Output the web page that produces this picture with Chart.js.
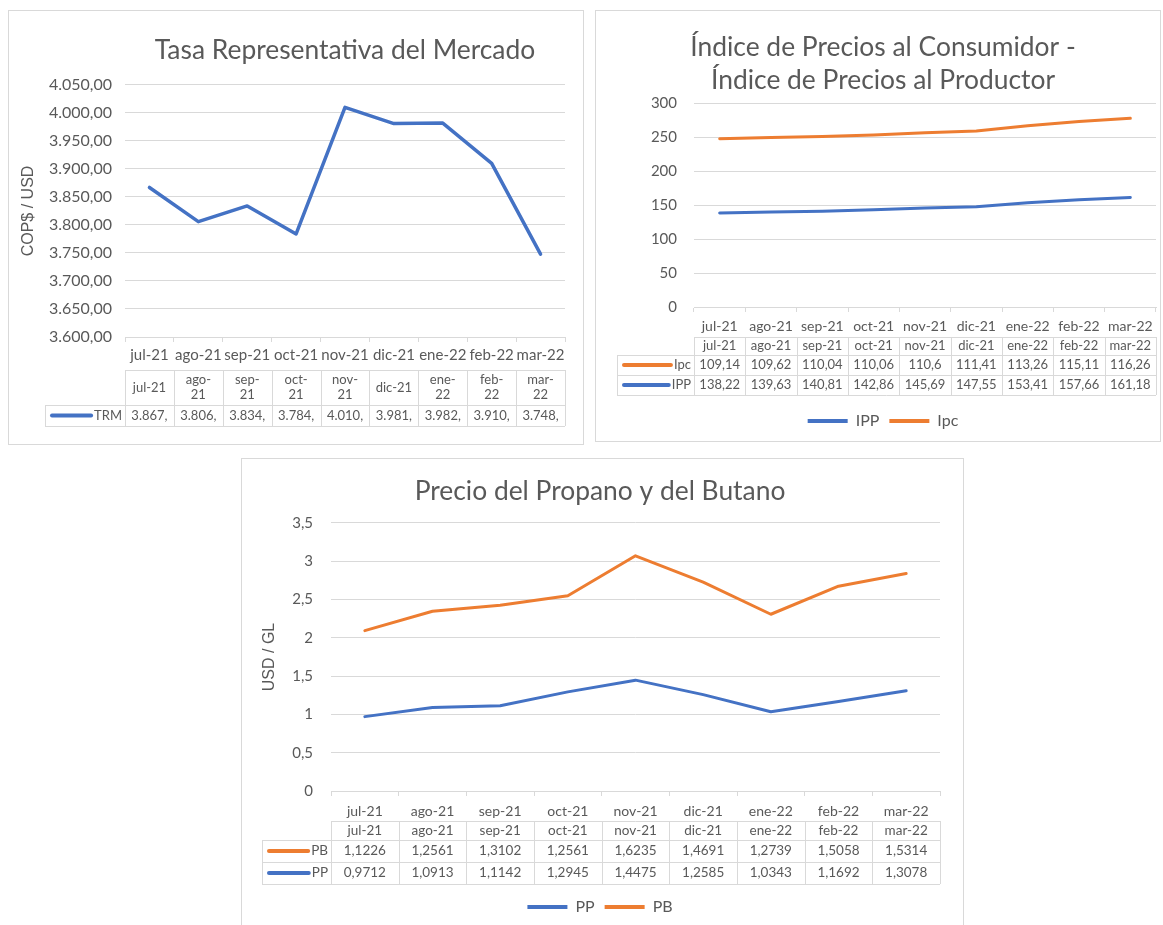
<!DOCTYPE html>
<html>
<head>
<meta charset="utf-8">
<script src="https://cdn.jsdelivr.net/npm/chart.js@4.4.0/dist/chart.umd.min.js"></script>
<style>
body { margin: 0; background: #fff; overflow: hidden; }
.panel { position: absolute; border: 1px solid #d9d9d9; background: #fff; }
canvas { display: block; }
</style>
</head>
<body>
<div class="panel" style="left:8px;top:10px;width:574px;height:433px"><canvas id="trm-chart" width="574" height="433"></canvas></div>
<div class="panel" style="left:595px;top:10px;width:564px;height:430px"><canvas id="ipc-chart" width="564" height="430"></canvas></div>
<div class="panel" style="left:241px;top:458px;width:721px;height:468px"><canvas id="gas-chart" width="721" height="468"></canvas></div>
<script>
// data
const months = ['jul-21', 'ago-21', 'sep-21', 'oct-21', 'nov-21', 'dic-21', 'ene-22', 'feb-22', 'mar-22'];
const trmHeader = ['jul-21', 'ago-\n21', 'sep-\n21', 'oct-\n21', 'nov-\n21', 'dic-21', 'ene-\n22', 'feb-\n22', 'mar-\n22'];
const trm = [3867, 3806, 3834, 3784, 4010, 3981, 3982, 3910, 3748];
const trmCells = ['3.867,', '3.806,', '3.834,', '3.784,', '4.010,', '3.981,', '3.982,', '3.910,', '3.748,'];
const ipc = [109.14, 109.62, 110.04, 110.06, 110.6, 111.41, 113.26, 115.11, 116.26];
const ipp = [138.22, 139.63, 140.81, 142.86, 145.69, 147.55, 153.41, 157.66, 161.18];
const pb = [1.1226, 1.2561, 1.3102, 1.2561, 1.6235, 1.4691, 1.2739, 1.5058, 1.5314];
const pp = [0.9712, 1.0913, 1.1142, 1.2945, 1.4475, 1.2585, 1.0343, 1.1692, 1.3078];

const BLUE = '#4472C4';
const ORANGE = '#ED7D31';
const GREY = '#595959';
const LINE = '#d9d9d9';
const FONT = 'Lato';

// "4050" -> "4.050,00", 1.5 -> "1,5"
function esNum(v, dec) {
    const s = (dec === undefined ? String(v) : v.toFixed(dec)).split('.');
    s[0] = s[0].replace(/\B(?=(\d{3})+(?!\d))/g, '.');
    return s.join(',');
}

// draws the excel-style data table under the x axis
const dataTablePlugin = {
    id: 'dataTable',
    afterDraw(chart, args, o) {
        if (!o || !o.rows) return;
        const ctx = chart.ctx;
        const area = chart.chartArea;
        const n = o.header.length;
        const colW = (area.right - area.left) / n;
        const top = o.top, hh = o.headerHeight, rh = o.rowHeight;
        const bottom = top + hh + rh * o.rows.length;
        const px = v => Math.round(v) + 0.5;

        ctx.save();
        ctx.strokeStyle = LINE;
        ctx.lineWidth = 1;
        ctx.beginPath();
        ctx.moveTo(area.left, px(top)); ctx.lineTo(area.right, px(top));
        for (let i = 0; i <= o.rows.length; i++) {
            const y = px(top + hh + rh * i);
            ctx.moveTo(o.left, y); ctx.lineTo(area.right, y);
        }
        for (let i = 0; i <= n; i++) {
            const x = px(area.left + colW * i);
            ctx.moveTo(x, top); ctx.lineTo(x, bottom);
        }
        ctx.moveTo(px(o.left), top + hh); ctx.lineTo(px(o.left), bottom);
        ctx.stroke();

        ctx.fillStyle = GREY;
        ctx.font = o.fontSize + 'px ' + FONT;
        ctx.textAlign = 'center';
        ctx.textBaseline = 'middle';
        o.header.forEach((h, i) => {
            const lines = h.split('\n');
            const lh = o.fontSize * 1.15;
            lines.forEach((t, j) => {
                ctx.fillText(t, area.left + colW * (i + 0.5), top + hh / 2 + (j - (lines.length - 1) / 2) * lh);
            });
        });
        o.rows.forEach((r, k) => {
            const y = top + hh + rh * k + rh / 2;
            ctx.textAlign = 'center';
            ctx.fillStyle = GREY;
            r.values.forEach((v, i) => ctx.fillText(v, area.left + colW * (i + 0.5), y));
            ctx.textAlign = 'right';
            ctx.fillText(r.label, area.left - 3, y);
            const w = ctx.measureText(r.label).width;
            ctx.strokeStyle = r.color;
            ctx.lineWidth = 4;
            ctx.lineCap = 'round';
            ctx.beginPath();
            ctx.moveTo(o.left + 7, y);
            ctx.lineTo(area.left - 6 - w, y);
            ctx.stroke();
        });
        ctx.restore();
    }
};
Chart.register(dataTablePlugin);

function lineSet(label, data, color) {
    return {
        label: label, data: data,
        borderColor: color, backgroundColor: color,
        borderWidth: 3, pointRadius: 0, tension: 0,
        borderCapStyle: 'round', borderJoinStyle: 'round', fill: false
    };
}

function xAxis(height, size, pad) {
    return {
        offset: true,
        afterFit: s => { s.height = height; },
        grid: { offset: true, drawOnChartArea: false, tickLength: 5, color: LINE },
        border: { color: LINE },
        ticks: { color: GREY, font: { family: FONT, size: size }, padding: pad, maxRotation: 0, autoSkip: false }
    };
}

const legendLabels = {
    boxWidth: 40, boxHeight: 4, color: GREY, padding: 10,
    font: { family: FONT, size: 16 },
    generateLabels: chart => Chart.defaults.plugins.legend.labels.generateLabels(chart)
        .map(l => Object.assign(l, { lineWidth: 0, fillStyle: l.strokeStyle }))
};

// Tasa Representativa del Mercado
new Chart(document.getElementById('trm-chart'), {
    type: 'line',
    data: { labels: months, datasets: [Object.assign(lineSet('TRM', trm, BLUE), { borderWidth: 3.5 })] },
    options: {
        responsive: false, animation: false,
        layout: { padding: { left: 0, right: 18, top: 0, bottom: 0 } },
        plugins: {
            legend: { display: false },
            tooltip: { enabled: false },
            title: {
                display: true, text: 'Tasa Representativa del Mercado', fullSize: false,
                color: GREY, font: { family: FONT, size: 26.4, weight: 'normal', lineHeight: 1.2 },
                padding: { top: 23.2, bottom: 19.1 }
            },
            dataTable: {
                header: trmHeader, top: 359, headerHeight: 35, rowHeight: 21, left: 36, fontSize: 13,
                rows: [{ label: 'TRM', color: BLUE, values: trmCells }]
            }
        },
        scales: {
            x: xAxis(107, 15, 4),
            y: {
                min: 3600, max: 4050,
                afterFit: s => { s.width = 116; },
                grid: { color: LINE, drawTicks: false },
                border: { display: false },
                ticks: { stepSize: 50, padding: 13, color: GREY, font: { family: FONT, size: 16 }, callback: v => esNum(v, 2) },
                title: { display: true, text: 'COP$ / USD', color: GREY, font: { family: 'Liberation Sans', size: 16 }, padding: { top: 10, bottom: 0 } }
            }
        }
    }
});

// Indice de precios (stacked lines)
new Chart(document.getElementById('ipc-chart'), {
    type: 'line',
    data: { labels: months, datasets: [lineSet('IPP', ipp, BLUE), lineSet('Ipc', ipc, ORANGE)] },
    options: {
        responsive: false, animation: false,
        layout: { padding: { left: 14, right: 4, top: 0, bottom: 2 } },
        plugins: {
            legend: { position: 'bottom', labels: legendLabels },
            tooltip: { enabled: false },
            title: {
                display: true, text: ['Índice de Precios al Consumidor -', 'Índice de Precios al Productor'],
                color: GREY, font: { family: FONT, size: 26.4, weight: 'normal', lineHeight: 1.25 },
                padding: { top: 19.5, bottom: 6.5 }
            },
            dataTable: {
                header: months, top: 326, headerHeight: 18, rowHeight: 20, left: 21, fontSize: 13,
                rows: [
                    { label: 'Ipc', color: ORANGE, values: ipc.map(v => esNum(v)) },
                    { label: 'IPP', color: BLUE, values: ipp.map(v => esNum(v)) }
                ]
            }
        },
        scales: {
            x: xAxis(96, 14, 6),
            y: {
                stacked: true, min: 0, max: 300,
                afterFit: s => { s.width = 84; },
                grid: { color: LINE, drawTicks: false },
                border: { display: false },
                ticks: { stepSize: 50, padding: 17, color: GREY, font: { family: FONT, size: 15 } }
            }
        }
    }
});

// Precio del Propano y del Butano (stacked lines)
new Chart(document.getElementById('gas-chart'), {
    type: 'line',
    data: { labels: months, datasets: [lineSet('PP', pp, BLUE), lineSet('PB', pb, ORANGE)] },
    options: {
        responsive: false, animation: false,
        layout: { padding: { left: 18, right: 23, top: 0, bottom: 2 } },
        plugins: {
            legend: { position: 'bottom', labels: legendLabels },
            tooltip: { enabled: false },
            title: {
                display: true, text: 'Precio del Propano y del Butano',
                color: GREY, font: { family: FONT, size: 26.4, weight: 'normal', lineHeight: 1.2 },
                padding: { top: 16.2, bottom: 16.1 }
            },
            dataTable: {
                header: months, top: 362, headerHeight: 19, rowHeight: 22, left: 20, fontSize: 13.5,
                rows: [
                    { label: 'PB', color: ORANGE, values: pb.map(v => esNum(v)) },
                    { label: 'PP', color: BLUE, values: pp.map(v => esNum(v)) }
                ]
            }
        },
        scales: {
            x: xAxis(98, 14, 6.6),
            y: {
                stacked: true, min: 0, max: 3.5,
                afterFit: s => { s.width = 71; },
                grid: { color: LINE, drawTicks: false },
                border: { display: false },
                ticks: { stepSize: 0.5, padding: 18, color: GREY, font: { family: FONT, size: 15 }, callback: v => esNum(v) },
                title: { display: true, text: 'USD / GL', color: GREY, font: { family: 'Liberation Sans', size: 16 }, padding: { top: 0, bottom: 0 } }
            }
        }
    }
});
</script>
</body>
</html>
